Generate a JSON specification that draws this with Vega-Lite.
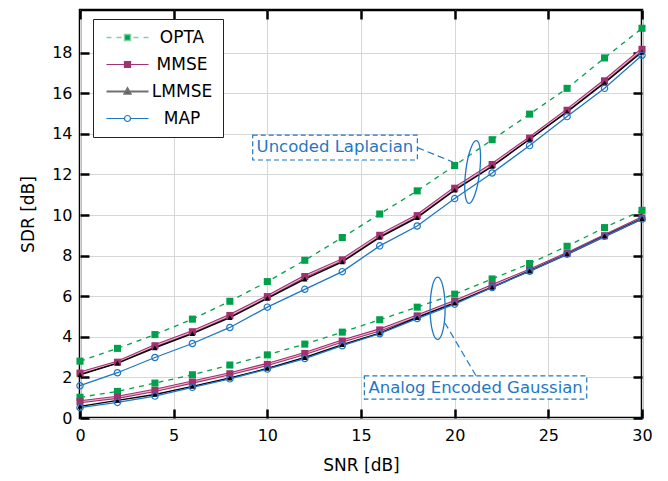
{
  "$schema": "https://vega.github.io/schema/vega-lite/v6.json",
  "width": 562,
  "height": 408,
  "autosize": "none",
  "padding": {"left": 80, "top": 10, "right": 26, "bottom": 63},
  "background": "white",
  "config": {
    "font": "DejaVu Sans",
    "view": {"stroke": "black", "strokeWidth": 2.5},
    "axis": {
      "labelFont": "DejaVu Sans", "titleFont": "DejaVu Sans",
      "labelColor": "black", "titleColor": "black", "titleFontWeight": "normal",
      "labelFontSize": 16, "titleFontSize": 17, "labelFlush": false,
      "tickColor": "black", "tickWidth": 2.5, "tickSize": -9,
      "domain": false, "gridColor": "#d6d6d6", "gridWidth": 1
    }
  },
  "datasets": {
    "curves": [
      {"g":"L","m":"OPTA","snr":0,"sdr":2.80},{"g":"L","m":"OPTA","snr":2,"sdr":3.43},{"g":"L","m":"OPTA","snr":4,"sdr":4.11},{"g":"L","m":"OPTA","snr":6,"sdr":4.87},{"g":"L","m":"OPTA","snr":8,"sdr":5.75},{"g":"L","m":"OPTA","snr":10,"sdr":6.72},{"g":"L","m":"OPTA","snr":12,"sdr":7.77},{"g":"L","m":"OPTA","snr":14,"sdr":8.89},{"g":"L","m":"OPTA","snr":16,"sdr":10.05},{"g":"L","m":"OPTA","snr":18,"sdr":11.19},{"g":"L","m":"OPTA","snr":20,"sdr":12.44},{"g":"L","m":"OPTA","snr":22,"sdr":13.71},{"g":"L","m":"OPTA","snr":24,"sdr":14.97},{"g":"L","m":"OPTA","snr":26,"sdr":16.24},{"g":"L","m":"OPTA","snr":28,"sdr":17.74},{"g":"L","m":"OPTA","snr":30,"sdr":19.2},
      {"g":"L","m":"MMSE","snr":0,"sdr":2.21},{"g":"L","m":"MMSE","snr":2,"sdr":2.75},{"g":"L","m":"MMSE","snr":4,"sdr":3.56},{"g":"L","m":"MMSE","snr":6,"sdr":4.25},{"g":"L","m":"MMSE","snr":8,"sdr":5.05},{"g":"L","m":"MMSE","snr":10,"sdr":5.98},{"g":"L","m":"MMSE","snr":12,"sdr":6.97},{"g":"L","m":"MMSE","snr":14,"sdr":7.79},{"g":"L","m":"MMSE","snr":16,"sdr":9.00},{"g":"L","m":"MMSE","snr":18,"sdr":9.97},{"g":"L","m":"MMSE","snr":20,"sdr":11.32},{"g":"L","m":"MMSE","snr":22,"sdr":12.49},{"g":"L","m":"MMSE","snr":24,"sdr":13.79},{"g":"L","m":"MMSE","snr":26,"sdr":15.16},{"g":"L","m":"MMSE","snr":28,"sdr":16.61},{"g":"L","m":"MMSE","snr":30,"sdr":18.16},
      {"g":"L","m":"LMMSE","snr":0,"sdr":2.13},{"g":"L","m":"LMMSE","snr":2,"sdr":2.70},{"g":"L","m":"LMMSE","snr":4,"sdr":3.46},{"g":"L","m":"LMMSE","snr":6,"sdr":4.16},{"g":"L","m":"LMMSE","snr":8,"sdr":4.95},{"g":"L","m":"LMMSE","snr":10,"sdr":5.89},{"g":"L","m":"LMMSE","snr":12,"sdr":6.84},{"g":"L","m":"LMMSE","snr":14,"sdr":7.69},{"g":"L","m":"LMMSE","snr":16,"sdr":8.90},{"g":"L","m":"LMMSE","snr":18,"sdr":9.87},{"g":"L","m":"LMMSE","snr":20,"sdr":11.22},{"g":"L","m":"LMMSE","snr":22,"sdr":12.39},{"g":"L","m":"LMMSE","snr":24,"sdr":13.73},{"g":"L","m":"LMMSE","snr":26,"sdr":15.08},{"g":"L","m":"LMMSE","snr":28,"sdr":16.51},{"g":"L","m":"LMMSE","snr":30,"sdr":18.03},
      {"g":"L","m":"MAP","snr":0,"sdr":1.59},{"g":"L","m":"MAP","snr":2,"sdr":2.23},{"g":"L","m":"MAP","snr":4,"sdr":2.98},{"g":"L","m":"MAP","snr":6,"sdr":3.67},{"g":"L","m":"MAP","snr":8,"sdr":4.46},{"g":"L","m":"MAP","snr":10,"sdr":5.46},{"g":"L","m":"MAP","snr":12,"sdr":6.34},{"g":"L","m":"MAP","snr":14,"sdr":7.21},{"g":"L","m":"MAP","snr":16,"sdr":8.48},{"g":"L","m":"MAP","snr":18,"sdr":9.46},{"g":"L","m":"MAP","snr":20,"sdr":10.81},{"g":"L","m":"MAP","snr":22,"sdr":12.07},{"g":"L","m":"MAP","snr":24,"sdr":13.42},{"g":"L","m":"MAP","snr":26,"sdr":14.85},{"g":"L","m":"MAP","snr":28,"sdr":16.24},{"g":"L","m":"MAP","snr":30,"sdr":17.87},
      {"g":"G","m":"OPTA","snr":0,"sdr":1.02},{"g":"G","m":"OPTA","snr":2,"sdr":1.31},{"g":"G","m":"OPTA","snr":4,"sdr":1.72},{"g":"G","m":"OPTA","snr":6,"sdr":2.13},{"g":"G","m":"OPTA","snr":8,"sdr":2.61},{"g":"G","m":"OPTA","snr":10,"sdr":3.11},{"g":"G","m":"OPTA","snr":12,"sdr":3.64},{"g":"G","m":"OPTA","snr":14,"sdr":4.23},{"g":"G","m":"OPTA","snr":16,"sdr":4.84},{"g":"G","m":"OPTA","snr":18,"sdr":5.46},{"g":"G","m":"OPTA","snr":20,"sdr":6.10},{"g":"G","m":"OPTA","snr":22,"sdr":6.85},{"g":"G","m":"OPTA","snr":24,"sdr":7.61},{"g":"G","m":"OPTA","snr":26,"sdr":8.46},{"g":"G","m":"OPTA","snr":28,"sdr":9.38},{"g":"G","m":"OPTA","snr":30,"sdr":10.23},
      {"g":"G","m":"MMSE","snr":0,"sdr":0.80},{"g":"G","m":"MMSE","snr":2,"sdr":1.02},{"g":"G","m":"MMSE","snr":4,"sdr":1.36},{"g":"G","m":"MMSE","snr":6,"sdr":1.77},{"g":"G","m":"MMSE","snr":8,"sdr":2.18},{"g":"G","m":"MMSE","snr":10,"sdr":2.64},{"g":"G","m":"MMSE","snr":12,"sdr":3.18},{"g":"G","m":"MMSE","snr":14,"sdr":3.79},{"g":"G","m":"MMSE","snr":16,"sdr":4.34},{"g":"G","m":"MMSE","snr":18,"sdr":5.03},{"g":"G","m":"MMSE","snr":20,"sdr":5.74},{"g":"G","m":"MMSE","snr":22,"sdr":6.52},{"g":"G","m":"MMSE","snr":24,"sdr":7.28},{"g":"G","m":"MMSE","snr":26,"sdr":8.10},{"g":"G","m":"MMSE","snr":28,"sdr":8.98},{"g":"G","m":"MMSE","snr":30,"sdr":9.85},
      {"g":"G","m":"LMMSE","snr":0,"sdr":0.57},{"g":"G","m":"LMMSE","snr":2,"sdr":0.87},{"g":"G","m":"LMMSE","snr":4,"sdr":1.16},{"g":"G","m":"LMMSE","snr":6,"sdr":1.56},{"g":"G","m":"LMMSE","snr":8,"sdr":1.97},{"g":"G","m":"LMMSE","snr":10,"sdr":2.44},{"g":"G","m":"LMMSE","snr":12,"sdr":2.98},{"g":"G","m":"LMMSE","snr":14,"sdr":3.61},{"g":"G","m":"LMMSE","snr":16,"sdr":4.18},{"g":"G","m":"LMMSE","snr":18,"sdr":4.95},{"g":"G","m":"LMMSE","snr":20,"sdr":5.66},{"g":"G","m":"LMMSE","snr":22,"sdr":6.44},{"g":"G","m":"LMMSE","snr":24,"sdr":7.25},{"g":"G","m":"LMMSE","snr":26,"sdr":8.08},{"g":"G","m":"LMMSE","snr":28,"sdr":8.97},{"g":"G","m":"LMMSE","snr":30,"sdr":9.82},
      {"g":"G","m":"MAP","snr":0,"sdr":0.51},{"g":"G","m":"MAP","snr":2,"sdr":0.77},{"g":"G","m":"MAP","snr":4,"sdr":1.08},{"g":"G","m":"MAP","snr":6,"sdr":1.51},{"g":"G","m":"MAP","snr":8,"sdr":1.93},{"g":"G","m":"MAP","snr":10,"sdr":2.41},{"g":"G","m":"MAP","snr":12,"sdr":2.93},{"g":"G","m":"MAP","snr":14,"sdr":3.56},{"g":"G","m":"MAP","snr":16,"sdr":4.15},{"g":"G","m":"MAP","snr":18,"sdr":4.90},{"g":"G","m":"MAP","snr":20,"sdr":5.61},{"g":"G","m":"MAP","snr":22,"sdr":6.43},{"g":"G","m":"MAP","snr":24,"sdr":7.23},{"g":"G","m":"MAP","snr":26,"sdr":8.07},{"g":"G","m":"MAP","snr":28,"sdr":8.95},{"g":"G","m":"MAP","snr":30,"sdr":9.80}
    ],
    "boxes": [
      {"label":"Uncoded Laplacian","x1":9.22,"x2":18.01,"y1":12.71,"y2":13.94,"tx":13.61,"ty":13.33},
      {"label":"Analog Encoded Gaussian","x1":15.18,"x2":27.05,"y1":0.93,"y2":2.08,"tx":21.12,"ty":1.5}
    ],
    "links": [
      {"x":18.01,"y":13.32,"x2":19.91,"y2":12.61},
      {"x":21.14,"y":2.08,"x2":19.49,"y2":4.67}
    ],
    "rings": [
      {"g":"L","x":20.96,"y":12.12},
      {"g":"G","x":19.09,"y":5.40}
    ]
  },
  "layer": [
    {
      "data": {"name": "curves"},
      "mark": {"type": "point", "opacity": 0},
      "encoding": {
        "x": {"field": "snr", "type": "quantitative", "scale": {"domain": [0, 30], "nice": false},
              "axis": {"orient": "bottom", "values": [0,5,10,15,20,25,30], "grid": true, "labelPadding": 18, "title": "SNR [dB]", "titlePadding": 14}},
        "y": {"field": "sdr", "type": "quantitative", "scale": {"domain": [0, 20.1], "nice": false, "zero": false},
              "axis": {"orient": "left", "values": [0,2,4,6,8,10,12,14,16,18], "grid": true, "labelPadding": 17, "title": "SDR [dB]", "titlePadding": 14}}
      }
    },
    {
      "data": {"name": "curves"},
      "mark": {"type": "point", "opacity": 0},
      "encoding": {
        "x": {"field": "snr", "type": "quantitative",
              "axis": {"orient": "top", "values": [0,5,10,15,20,25,30], "grid": false, "labels": false, "title": null}},
        "y": {"field": "sdr", "type": "quantitative",
              "axis": {"orient": "right", "values": [0,2,4,6,8,10,12,14,16,18], "grid": false, "labels": false, "title": null}}
      }
    },
    {
      "data": {"name": "curves"},
      "transform": [{"filter": "datum.m === 'OPTA'"}],
      "mark": {"type": "line", "color": "#00a14b", "strokeWidth": 1.3, "strokeDash": [5, 5]},
      "encoding": {
        "x": {"field": "snr", "type": "quantitative", "axis": null},
        "y": {"field": "sdr", "type": "quantitative", "axis": null},
        "detail": {"field": "g"}
      }
    },
    {
      "data": {"name": "curves"},
      "transform": [{"filter": "datum.m === 'MMSE'"}],
      "mark": {"type": "line", "color": "#a3306f", "strokeWidth": 3.2},
      "encoding": {
        "x": {"field": "snr", "type": "quantitative", "axis": null},
        "y": {"field": "sdr", "type": "quantitative", "axis": null},
        "detail": {"field": "g"}
      }
    },
    {
      "data": {"name": "curves"},
      "transform": [{"filter": "datum.m === 'MMSE'"}],
      "mark": {"type": "line", "color": "#eab8d2", "strokeWidth": 1.1},
      "encoding": {
        "x": {"field": "snr", "type": "quantitative", "axis": null},
        "y": {"field": "sdr", "type": "quantitative", "axis": null},
        "detail": {"field": "g"}
      }
    },
    {
      "data": {"name": "curves"},
      "transform": [{"filter": "datum.m === 'LMMSE'"}],
      "mark": {"type": "line", "color": "#000000", "strokeWidth": 1.4},
      "encoding": {
        "x": {"field": "snr", "type": "quantitative", "axis": null},
        "y": {"field": "sdr", "type": "quantitative", "axis": null},
        "detail": {"field": "g"}
      }
    },
    {
      "data": {"name": "curves"},
      "transform": [{"filter": "datum.m === 'MAP'"}],
      "mark": {"type": "line", "color": "#1f77c4", "strokeWidth": 1.3},
      "encoding": {
        "x": {"field": "snr", "type": "quantitative", "axis": null},
        "y": {"field": "sdr", "type": "quantitative", "axis": null},
        "detail": {"field": "g"}
      }
    },
    {
      "data": {"name": "curves"},
      "transform": [{"filter": "datum.m === 'OPTA'"}],
      "mark": {"type": "point", "filled": true, "shape": "square", "size": 50, "color": "#00a14b", "opacity": 1},
      "encoding": {
        "x": {"field": "snr", "type": "quantitative", "axis": null},
        "y": {"field": "sdr", "type": "quantitative", "axis": null}
      }
    },
    {
      "data": {"name": "curves"},
      "transform": [{"filter": "datum.m === 'MMSE'"}],
      "mark": {"type": "point", "filled": true, "shape": "square", "size": 50, "color": "#a3306f", "opacity": 1},
      "encoding": {
        "x": {"field": "snr", "type": "quantitative", "axis": null},
        "y": {"field": "sdr", "type": "quantitative", "axis": null}
      }
    },
    {
      "data": {"name": "curves"},
      "transform": [{"filter": "datum.m === 'LMMSE'"}],
      "mark": {"type": "point", "filled": true, "shape": "triangle-up", "size": 30, "color": "#000000", "opacity": 1},
      "encoding": {
        "x": {"field": "snr", "type": "quantitative", "axis": null},
        "y": {"field": "sdr", "type": "quantitative", "axis": null}
      }
    },
    {
      "data": {"name": "curves"},
      "transform": [{"filter": "datum.m === 'MAP'"}],
      "mark": {"type": "point", "filled": false, "shape": "circle", "size": 40, "stroke": "#1f77c4", "strokeWidth": 1.2, "opacity": 1},
      "encoding": {
        "x": {"field": "snr", "type": "quantitative", "axis": null},
        "y": {"field": "sdr", "type": "quantitative", "axis": null}
      }
    },
    {
      "data": {"name": "links"},
      "mark": {"type": "rule", "color": "#1f77c4", "strokeWidth": 1.2, "strokeDash": [7, 4]},
      "encoding": {
        "x": {"field": "x", "type": "quantitative", "axis": null},
        "y": {"field": "y", "type": "quantitative", "axis": null},
        "x2": {"field": "x2"},
        "y2": {"field": "y2"}
      }
    },
    {
      "data": {"name": "rings"},
      "transform": [{"filter": "datum.g === 'L'"}],
      "mark": {"type": "point", "filled": false, "shape": "M0,-1A0.22,1 0 1,1 0,1A0.22,1 0 1,1 0,-1Z", "size": 4000, "angle": 7, "stroke": "#1f77c4", "strokeWidth": 1.3, "opacity": 1},
      "encoding": {
        "x": {"field": "x", "type": "quantitative", "axis": null},
        "y": {"field": "y", "type": "quantitative", "axis": null}
      }
    },
    {
      "data": {"name": "rings"},
      "transform": [{"filter": "datum.g === 'G'"}],
      "mark": {"type": "point", "filled": false, "shape": "M0,-1A0.24,1 0 1,1 0,1A0.24,1 0 1,1 0,-1Z", "size": 3900, "angle": 0, "stroke": "#1f77c4", "strokeWidth": 1.3, "opacity": 1},
      "encoding": {
        "x": {"field": "x", "type": "quantitative", "axis": null},
        "y": {"field": "y", "type": "quantitative", "axis": null}
      }
    },
    {
      "data": {"name": "boxes"},
      "mark": {"type": "rect", "fill": "white", "stroke": "#1f77c4", "strokeWidth": 1.2, "strokeDash": [5, 3]},
      "encoding": {
        "x": {"field": "x1", "type": "quantitative", "axis": null},
        "x2": {"field": "x2"},
        "y": {"field": "y1", "type": "quantitative", "axis": null},
        "y2": {"field": "y2"}
      }
    },
    {
      "data": {"name": "boxes"},
      "mark": {"type": "text", "color": "#1f77c4", "font": "DejaVu Sans", "fontSize": 16.5, "align": "center", "baseline": "middle"},
      "encoding": {
        "x": {"field": "tx", "type": "quantitative", "axis": null},
        "y": {"field": "ty", "type": "quantitative", "axis": null},
        "text": {"field": "label"}
      }
    },
    {
      "data": {"name": "curves"},
      "transform": [{"filter": "false"}],
      "mark": {"type": "point", "filled": true, "opacity": 1},
      "encoding": {
        "fill": {"field": "m", "type": "nominal",
                 "scale": {"domain": ["OPTA","MMSE","LMMSE","MAP"], "range": ["#00a14b","#a3306f","#000000","#ffffff"]},
                 "legend": {
                   "orient": "none", "legendX": 13, "legendY": 9, "title": null,
                   "padding": 10, "strokeColor": "#222222", "fillColor": "white", "cornerRadius": 0,
                   "symbolSize": 100, "symbolOffset": 16, "labelAlign": "center", "labelOffset": 46,
                   "labelFont": "DejaVu Sans", "labelFontSize": 17, "labelColor": "black", "rowPadding": 9,
                   "symbolOpacity": 1
                 }},
        "stroke": {"field": "m", "type": "nominal",
                   "scale": {"domain": ["OPTA","MMSE","LMMSE","MAP"], "range": ["#80d0a5","#a3306f","#707070","#1f77c4"]}},
        "shape": {"field": "m", "type": "nominal",
                  "scale": {"domain": ["OPTA","MMSE","LMMSE","MAP"], "range": [
                    "M-4.2,0H-3.2M-2.2,0H-1.2M1.2,0H2.2M3.2,0H4.2M-0.6,-0.6H0.6V0.6H-0.6Z",
                    "M-4.2,0H4.2M-0.6,-0.6H0.6V0.6H-0.6Z",
                    "M-4.2,0H4.2M0,-0.65L0.6,0.45H-0.6Z",
                    "M-4.2,0H-0.6M0.6,0H4.2M0.6,0A0.6,0.6 0 1 1 -0.6,0A0.6,0.6 0 1 1 0.6,0Z"]}},
        "strokeWidth": {"field": "m", "type": "nominal",
                        "scale": {"type": "ordinal", "domain": ["OPTA","MMSE","LMMSE","MAP"], "range": [1.4, 1.2, 2, 1.2]}}
      }
    }
  ],
  "resolve": {"axis": {"x": "independent", "y": "independent"}}
}
